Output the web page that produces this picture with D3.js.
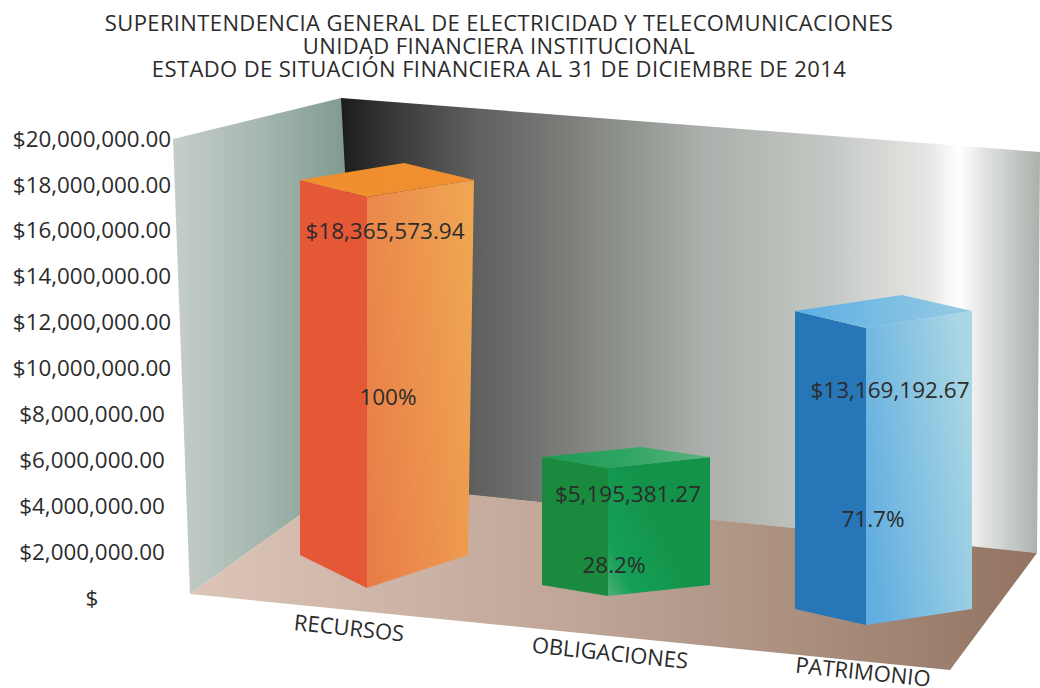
<!DOCTYPE html>
<html><head><meta charset="utf-8">
<script src="https://cdn.jsdelivr.net/npm/d3@7"></script>
<style>html,body{margin:0;padding:0;background:#fff;overflow:hidden}svg{display:block}text{font-family:"Open Sans",sans-serif;fill:#2b2b2b}</style>
</head><body><svg id="c" width="1040" height="688"></svg>
<script>
const titleLines = ["SUPERINTENDENCIA GENERAL DE ELECTRICIDAD Y TELECOMUNICACIONES","UNIDAD FINANCIERA INSTITUCIONAL","ESTADO DE SITUACIÓN FINANCIERA AL 31 DE DICIEMBRE DE 2014"];
const categories = ["RECURSOS","OBLIGACIONES","PATRIMONIO"];
const values = [18365573.94,5195381.27,13169192.67];
const percents = ["100%","28.2%","71.7%"];
const axisTicks = [0,2e6,4e6,6e6,8e6,10e6,12e6,14e6,16e6,18e6,20e6];

// Layout (perspective drawn by hand in the source, one entry per category)
const ord = r => d3.scaleOrdinal(categories, r);
const xLeft = ord([300,542,795]), xFront = ord([367,608,866]), xRight = ord([474,710,972]), xRightBase = ord([468,710,972]), xBack = ord([404,641,902]);
const baseY = ord([555,585,609]), baseDrop = ord([33,11,16]), topDrop = ord([17,11,17]), topRise = ord([17,10,16]);
const barH = d3.scaleLinear().domain([0,values[1],values[2],values[0]]).range([0,128,298,375]);
const valueLabelPos = ord([[385,231],[628,494],[890,390]]);
const pctLabelPos = ord([[388,397],[614,565],[873,519]]);
const catLabelPos = ord([[349,628],[610,653],[863,672]]);
const y = d3.scaleLinear().domain([0,20e6]).range([598,139]);

const svg = d3.select("#c"), defs = svg.append("defs");
const line = d3.line();
function grad(id, stops, x1=0, y1=0, x2=1, y2=0){
  const g = defs.append("linearGradient").attr("id",id).attr("x1",x1).attr("y1",y1).attr("x2",x2).attr("y2",y2);
  stops.forEach(([o,c])=>g.append("stop").attr("offset",o).attr("stop-color",c));
}
grad("back",[[0,"#1c1c1b"],[.08,"#3a3a39"],[.19,"#5f5f5e"],[.32,"#7b7d79"],[.52,"#aab0ab"],[.7,"#c4c8c4"],[.84,"#e6e7e4"],[.885,"#ffffff"],[.92,"#e2e4e2"],[1,"#aab0ab"]]);
grad("left",[[0,"#c6cec9"],[.5,"#a6b7af"],[1,"#7f9b91"]]);
grad("floor",[[0,"#dcc4b8"],[.45,"#bfa697"],[.75,"#a88d7c"],[1,"#937362"]]);
grad("r0",[[0,"#e97f48"],[1,"#efa552"]],0,.7,1,.3);
grad("r1",[[0,"#4fae74"],[.3,"#15a058"],[1,"#139349"]],0,1,.6,.6);
grad("r2",[[0,"#62aee0"],[1,"#aad7e4"]],0,.7,1,.3);
grad("t0",[[0,"#f08e2e"],[1,"#f09030"]]);
grad("t1",[[0,"#1c9a52"],[.5,"#2fa661"],[1,"#5cb27f"]]);
grad("t2",[[0,"#5cafe3"],[1,"#97cbe4"]]);
const leftCol = ["#e55836","#1a8a3e","#2776b8"];

// Walls and floor
svg.append("path").attr("d",line([[341,98],[1040,152],[1037,553],[341,482]])+"Z").attr("fill","url(#back)");
svg.append("path").attr("d",line([[173,139],[341,98],[346,190],[346,482],[190,594]])+"Z").attr("fill","url(#left)");
svg.append("path").attr("d",line([[190,594],[346,482],[1037,553],[950,670]])+"Z").attr("fill","url(#floor)");

// Title
svg.append("g").selectAll("text").data(titleLines).join("text")
  .attr("x",499).attr("y",(d,i)=>[31,54,77][i]).attr("text-anchor","middle").attr("font-size",22).attr("letter-spacing",0.38).text(d=>d);

// Axis
const fmt = d => d===0 ? "$" : "$"+d3.format(",.2f")(d);
const ax = svg.append("g").attr("transform","translate(92,0)").call(d3.axisLeft(y).tickValues(axisTicks).tickFormat(fmt).tickSize(0));
ax.select(".domain").remove();
ax.selectAll("text").attr("x",0).attr("text-anchor","middle").attr("font-size",22.4).attr("fill","#2b2b2b").attr("font-family",'"Open Sans",sans-serif');

// Bars
const bars = svg.append("g").selectAll("g").data(categories.map((c,i)=>({c,i,v:values[i]}))).join("g");
bars.append("path").attr("fill",d=>leftCol[d.i]).attr("d",d=>{const b=baseY(d.c),t=b-barH(d.v);
  return line([[xLeft(d.c),t],[xFront(d.c),t+topDrop(d.c)],[xFront(d.c),b+baseDrop(d.c)],[xLeft(d.c),b]])+"Z";});
bars.append("path").attr("fill",d=>`url(#r${d.i})`).attr("d",d=>{const b=baseY(d.c),t=b-barH(d.v);
  return line([[xFront(d.c),t+topDrop(d.c)],[xRight(d.c),t],[xRightBase(d.c),b],[xFront(d.c),b+baseDrop(d.c)]])+"Z";});
bars.append("path").attr("fill",d=>`url(#t${d.i})`).attr("d",d=>{const t=baseY(d.c)-barH(d.v);
  return line([[xLeft(d.c),t],[xBack(d.c),t-topRise(d.c)],[xRight(d.c),t],[xFront(d.c),t+topDrop(d.c)]])+"Z";});

// Labels
const money = d => "$"+d3.format(",.2f")(d);
bars.append("text").attr("x",d=>valueLabelPos(d.c)[0]).attr("y",d=>valueLabelPos(d.c)[1]).attr("dy","0.35em").attr("text-anchor","middle").attr("font-size",22.5).text(d=>money(d.v));
bars.append("text").attr("x",d=>pctLabelPos(d.c)[0]).attr("y",d=>pctLabelPos(d.c)[1]).attr("dy","0.35em").attr("text-anchor","middle").attr("font-size",22.5).text(d=>percents[d.i]);
svg.append("g").selectAll("text").data(categories).join("text")
  .attr("transform",d=>`translate(${catLabelPos(d)}) rotate(6)`).attr("dy","0.35em").attr("text-anchor","middle").attr("font-size",22).text(d=>d);
</script></body></html>
